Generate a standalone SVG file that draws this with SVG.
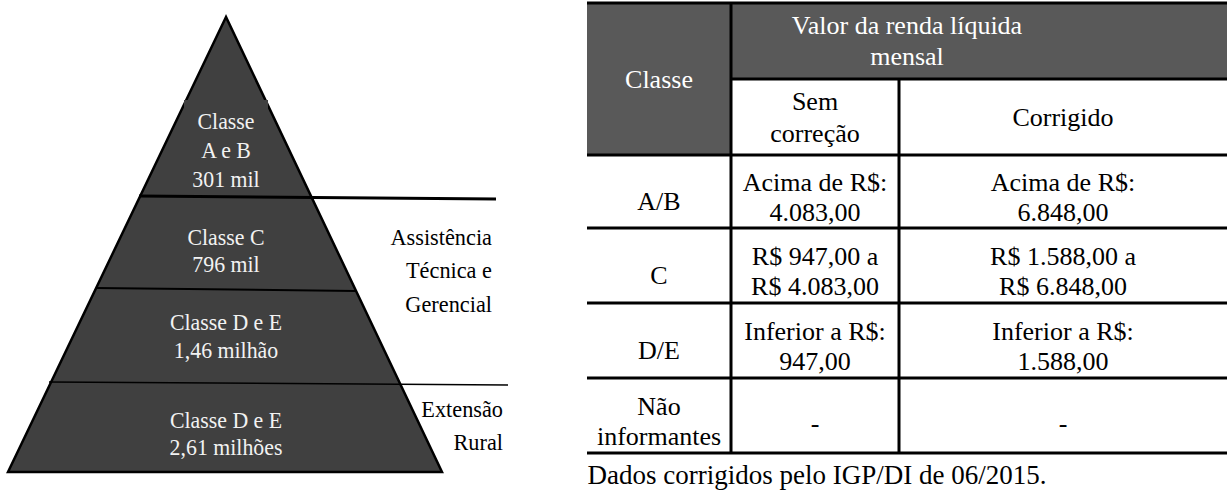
<svg xmlns="http://www.w3.org/2000/svg" width="1227" height="491" viewBox="0 0 1227 491">
<style>
.pt{font-family:"Liberation Serif","Times New Roman",serif;font-size:23px;fill:#f2f2f2;text-anchor:middle}
.rl{font-family:"Liberation Serif","Times New Roman",serif;font-size:23px;fill:#000;text-anchor:end}
.tt{font-family:"Liberation Serif","Times New Roman",serif;font-size:26px;fill:#000;text-anchor:middle}
.th{font-family:"Liberation Serif","Times New Roman",serif;font-size:26px;fill:#fff;text-anchor:middle}
.tl{stroke:#000;stroke-width:3;fill:none}
</style>
<rect width="1227" height="491" fill="#fff"/>
<g id="pyramid">
<polygon points="226,17 8,472 442,472" fill="#404040" stroke="#000" stroke-width="2.5" stroke-linejoin="miter"/>
<rect x="184" y="100" width="84" height="20" fill="#404040"/>
</g>
<g id="connectors">
<line x1="139" y1="196" x2="496" y2="199" stroke="#000" stroke-width="3"/>
<line x1="96" y1="288" x2="356" y2="291" stroke="#000" stroke-width="2"/>
<line x1="49" y1="382" x2="508" y2="385" stroke="#000" stroke-width="1.5"/>
</g>
<g id="layer-ab" transform="translate(226,0) scale(0.95,1)">
<text class="pt" x="0" y="129">Classe</text>
<text class="pt" x="0" y="158">A e B</text>
<text class="pt" x="0" y="187">301 mil</text>
</g>
<g id="layer-c" transform="translate(226,0) scale(0.95,1)">
<text class="pt" x="0" y="245">Classe C</text>
<text class="pt" x="0" y="272">796 mil</text>
</g>
<g id="layer-de1" transform="translate(226,0) scale(0.95,1)">
<text class="pt" x="0" y="330">Classe D e E</text>
<text class="pt" x="0" y="358">1,46 milhão</text>
</g>
<g id="layer-de2" transform="translate(226,0) scale(0.95,1)">
<text class="pt" x="0" y="428">Classe D e E</text>
<text class="pt" x="0" y="455">2,61 milhões</text>
</g>
<g id="label-atg" transform="translate(492,0) scale(0.97,1)">
<text class="rl" x="0" y="245">Assistência</text>
<text class="rl" x="0" y="278">Técnica e</text>
<text class="rl" x="0" y="312">Gerencial</text>
</g>
<g id="label-er" transform="translate(503,0) scale(0.97,1)">
<text class="rl" x="0" y="417">Extensão</text>
<text class="rl" x="0" y="450">Rural</text>
</g>
<g id="table">
<rect x="587" y="3" width="640" height="76" fill="#595959"/>
<rect x="587" y="79" width="144" height="76" fill="#595959"/>
<line class="tl" x1="587" y1="3" x2="1227" y2="3"/>
<line class="tl" x1="731" y1="79" x2="1227" y2="79"/>
<line class="tl" x1="587" y1="155" x2="1227" y2="155"/>
<line class="tl" x1="587" y1="228" x2="1227" y2="228"/>
<line class="tl" x1="587" y1="303" x2="1227" y2="303"/>
<line class="tl" x1="587" y1="378" x2="1227" y2="378"/>
<line class="tl" x1="587" y1="453" x2="1227" y2="453"/>
<line class="tl" x1="731" y1="3" x2="731" y2="453"/>
<line class="tl" x1="899" y1="79" x2="899" y2="453"/>
<text class="th" x="659" y="88">Classe</text>
<text class="th" x="907" y="34">Valor da renda líquida</text>
<text class="th" x="907" y="65">mensal</text>
<text class="tt" x="815" y="110">Sem</text>
<text class="tt" x="815" y="142">correção</text>
<text class="tt" x="1063" y="126">Corrigido</text>
<text class="tt" x="659" y="210">A/B</text>
<text class="tt" x="815" y="191">Acima de R$:</text>
<text class="tt" x="815" y="221">4.083,00</text>
<text class="tt" x="1063" y="191">Acima de R$:</text>
<text class="tt" x="1063" y="221">6.848,00</text>
<text class="tt" x="659" y="284">C</text>
<text class="tt" x="815" y="265">R$ 947,00 a</text>
<text class="tt" x="815" y="295">R$ 4.083,00</text>
<text class="tt" x="1063" y="265">R$ 1.588,00 a</text>
<text class="tt" x="1063" y="295">R$ 6.848,00</text>
<text class="tt" x="659" y="359">D/E</text>
<text class="tt" x="815" y="340">Inferior a R$:</text>
<text class="tt" x="815" y="370">947,00</text>
<text class="tt" x="1063" y="340">Inferior a R$:</text>
<text class="tt" x="1063" y="370">1.588,00</text>
<text class="tt" x="659" y="415">Não</text>
<text class="tt" x="659" y="445">informantes</text>
<text class="tt" x="815" y="432">-</text>
<text class="tt" x="1063" y="432">-</text>
<text class="tt" x="817" y="484" style="font-size:27px">Dados corrigidos pelo IGP/DI de 06/2015.</text>
</g>
</svg>
